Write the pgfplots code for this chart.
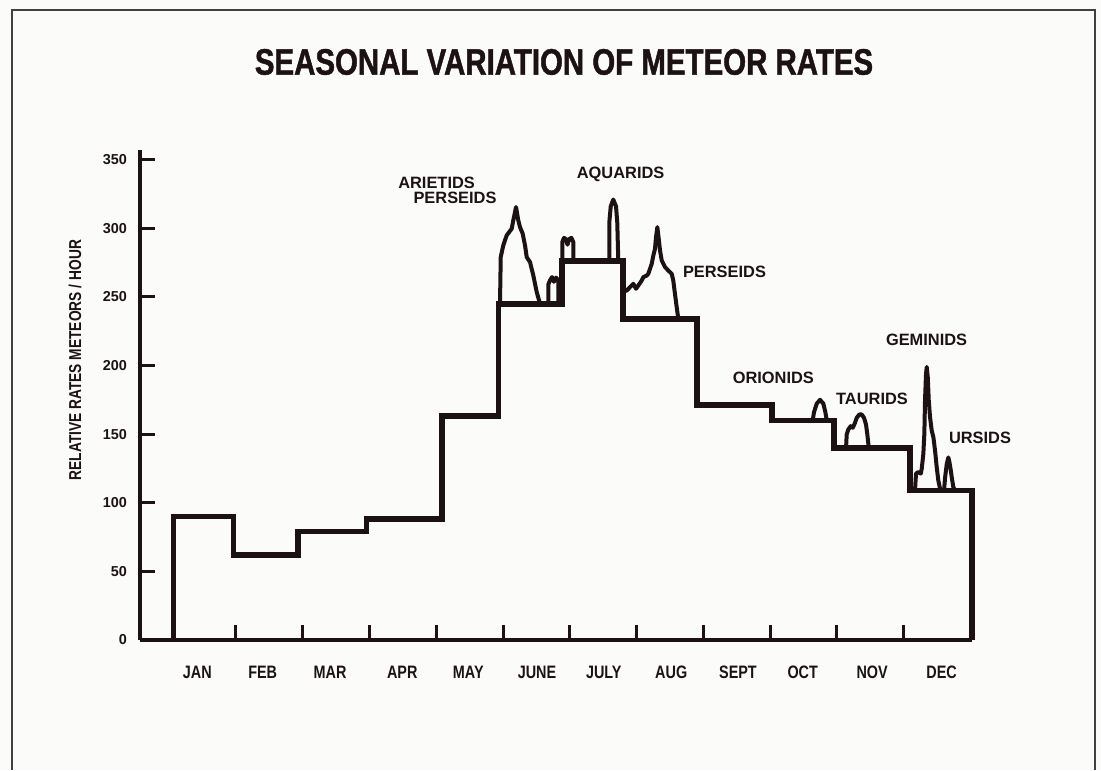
\documentclass[border=0pt]{standalone}
\usepackage{pgfplots}
\pgfplotsset{compat=1.18}
\usepackage{fontspec}
\setmainfont{Liberation Sans}
\newfontfamily\condfont{Liberation Sans}[FakeStretch=0.8]
\newfontfamily\titlefont{Liberation Sans Bold}[FakeStretch=0.8, FakeBold=1.2]
\definecolor{ink}{rgb}{0.11,0.07,0.08}
\definecolor{paper}{rgb}{0.985,0.985,0.975}
\begin{document}
\begin{tikzpicture}[x=1pt,y=1pt]
\fill[paper] (0,0) rectangle (550.5,385);
\draw[line width=1.3pt, black!75] (6,0) -- (6,380) -- (547.5,380) -- (547.5,0);
\node[font=\titlefont\fontsize{18.4}{21}\selectfont, text=ink] at (282,354) {SEASONAL VARIATION OF METEOR RATES};
\begin{axis}[
  at={(70pt,65pt)}, anchor=south west,
  scale only axis, width=416pt, height=245pt,
  xmin=-0.438, xmax=12.026, ymin=0, ymax=357,
  clip=false,
  axis lines=left,
  axis line style={-, line width=1.8pt, color=ink},
  tick align=inside,
  major tick length=7.5pt,
  tick style={line width=1.5pt, color=ink},
  xtick={1,2,...,11},
  xticklabels={},
  extra x ticks={0.42,1.4,2.41,3.49,4.48,5.51,6.51,7.52,8.52,9.49,10.53,11.57},
  extra x tick labels={JAN,FEB,MAR,APR,MAY,JUNE,JULY,AUG,SEPT,OCT,NOV,DEC},
  extra x tick style={grid=none, major tick length=0pt},
  xticklabel style={font=\condfont\bfseries\fontsize{9}{10}\selectfont, text=ink, anchor=center, yshift=-16pt},
  ytick={0,50,...,350},
  /pgf/number format/assume math mode=true,
  yticklabel style={font=\bfseries\fontsize{7.2}{8}\selectfont, text=ink, xshift=-3pt},
  ylabel={RELATIVE RATES METEORS / HOUR},
  ylabel style={font=\condfont\bfseries\fontsize{8.6}{10}\selectfont, text=ink, at={(axis description cs:-0.078,0.571)}, anchor=center},
]
% monthly base rates
\addplot[ink, line width=2.8pt, line join=miter] coordinates {
(0.061,0) (0.061,90) (0.960,90) (0.960,62) (1.933,62) (1.933,79) (2.958,79) (2.958,88)
(4.082,88) (4.082,163) (4.930,163) (4.930,245) (5.884,245) (5.884,276) (6.802,276)
(6.802,234) (7.902,234) (7.902,171) (9.026,171) (9.026,160) (9.959,160) (9.959,140)
(11.097,140) (11.097,109) (12.022,109) (12.022,0)};
% Arietids / Perseids (June)
\addplot[ink, line width=2pt, line join=round] coordinates {
(4.955,245) (4.966,279) (5.004,287.5) (5.055,294.8) (5.130,299.6) (5.154,305.7) (5.195,315.4)
(5.229,305.7) (5.255,300.8) (5.295,296) (5.330,287.5) (5.355,279) (5.405,275.3) (5.454,265.6)
(5.505,253.5) (5.554,245)};
% small June bump
\addplot[ink, line width=2pt, line join=round] coordinates {
(5.679,245) (5.679,259) (5.704,262) (5.734,264.4) (5.764,261) (5.794,264) (5.829,262) (5.829,245)};
% early July bump
\addplot[ink, line width=2pt, line join=round] coordinates {
(5.889,276) (5.889,290) (5.914,293) (5.944,292) (5.966,288) (5.990,292) (6.024,293) (6.053,290) (6.053,276)};
% Aquarids
\addplot[ink, line width=2pt, line join=round] coordinates {
(6.592,276) (6.592,303.9) (6.614,316) (6.652,320.9) (6.693,316) (6.712,303.9) (6.727,276)};
% Perseids (August)
\addplot[ink, line width=2pt, line join=round] coordinates {
(6.802,254) (6.853,254.6) (6.903,257.1) (6.952,259.5) (6.993,255.9) (7.027,258.3) (7.078,261.9)
(7.102,264.4) (7.153,265.5) (7.177,266.8) (7.202,270.4) (7.228,274.1) (7.252,280.1) (7.277,285)
(7.292,293.5) (7.312,300.8) (7.333,292.3) (7.352,283.8) (7.378,276.5) (7.427,271.7) (7.476,269.2)
(7.527,266.8) (7.551,261.9) (7.576,252.2) (7.602,242.5) (7.626,234)};
% Orionids
\addplot[ink, line width=2pt, line join=round] coordinates {
(9.640,160) (9.659,166) (9.700,172.2) (9.749,175) (9.799,172.2) (9.829,166) (9.850,160)};
% Taurids
\addplot[ink, line width=2pt, line join=round] coordinates {
(10.139,140) (10.149,149.7) (10.173,153.4) (10.209,155.8) (10.239,154.6) (10.273,158.2) (10.299,161.9)
(10.338,164.3) (10.374,164.3) (10.408,161.9) (10.438,157) (10.458,149.7) (10.479,140)};
% Geminids
\addplot[ink, line width=2pt, line join=round] coordinates {
(11.172,109) (11.187,121.2) (11.222,122.4) (11.258,121.2) (11.273,124.8) (11.297,135.7) (11.312,150.3)
(11.322,174.6) (11.337,194) (11.348,198.9) (11.363,191.6) (11.378,174.6) (11.397,162.4) (11.422,152.7)
(11.447,147.9) (11.472,138.1) (11.497,126) (11.521,116.3) (11.547,110.2) (11.572,109)};
% Ursids
\addplot[ink, line width=2pt, line join=round] coordinates {
(11.607,109) (11.622,118) (11.647,128) (11.671,133) (11.686,130) (11.707,124) (11.722,118.7) (11.746,111.4) (11.772,109)};
% shower names
\begin{scope}[every node/.style={font=\bfseries\fontsize{8.2}{9}\selectfont, text=ink, inner sep=0pt}]
\node at (axis cs:4.005,333) {ARIETIDS};
\node at (axis cs:4.281,322) {PERSEIDS};
\node at (axis cs:6.762,339) {AQUARIDS};
\node at (axis cs:8.318,268) {PERSEIDS};
\node at (axis cs:9.050,191) {ORIONIDS};
\node at (axis cs:10.528,176) {TAURIDS};
\node at (axis cs:11.345,219) {GEMINIDS};
\node at (axis cs:12.146,147) {URSIDS};
\end{scope}
\end{axis}
\pgfresetboundingbox
\useasboundingbox (0,0) rectangle (550.5,385);
\end{tikzpicture}
\end{document}
